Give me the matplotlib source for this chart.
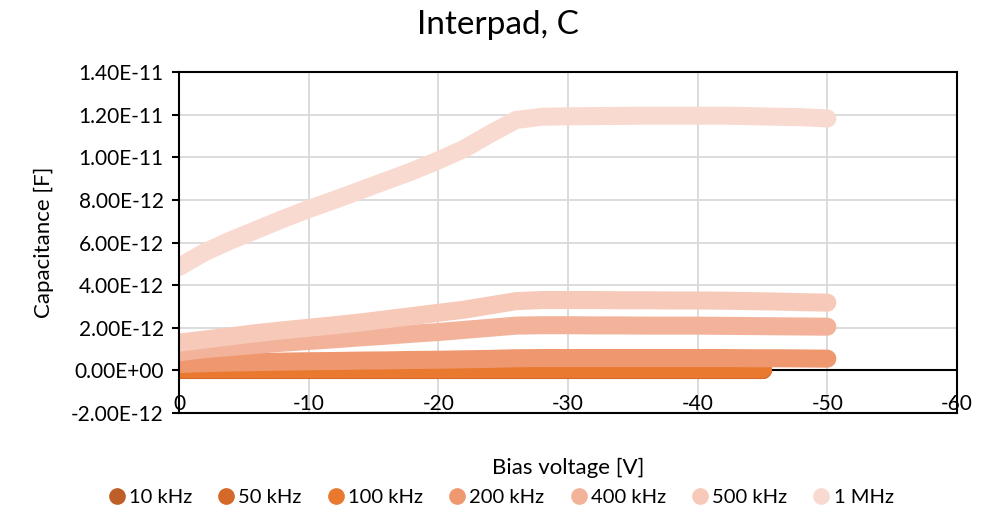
import matplotlib
matplotlib.use("Agg")
import matplotlib.pyplot as plt
from matplotlib.lines import Line2D
from matplotlib.ticker import FuncFormatter, MultipleLocator

plt.rcParams['font.family'] = ['Lato', 'DejaVu Sans']

# bias voltage [V], 2 V steps
bias = [0, -2, -4, -6, -8, -10, -12, -14, -16, -18, -20, -22, -24, -26,
        -28, -30, -32, -34, -36, -38, -40, -42, -44, -46, -48, -50]
bias_low = bias[:23] + [-45]

# capacitance in units of 1e-12 F
c_10k = [0.00] * 24
c_50k = [0.02] * 24
c_100k = [0.05] * 24
c_200k = [0.30, 0.34, 0.37, 0.39, 0.41, 0.43, 0.44, 0.46, 0.47, 0.49, 0.50, 0.52, 0.54, 0.57,
          0.58, 0.58, 0.58, 0.58, 0.58, 0.58, 0.58, 0.58, 0.57, 0.57, 0.56, 0.55]
c_400k = [0.85, 1.00, 1.10, 1.20, 1.30, 1.38, 1.46, 1.55, 1.63, 1.72, 1.80, 1.90, 2.00, 2.10,
          2.12, 2.12, 2.11, 2.11, 2.10, 2.10, 2.10, 2.09, 2.08, 2.07, 2.06, 2.05]
c_500k = [1.30, 1.45, 1.60, 1.75, 1.88, 2.00, 2.12, 2.25, 2.40, 2.55, 2.70, 2.85, 3.05, 3.25,
          3.30, 3.30, 3.30, 3.29, 3.29, 3.28, 3.28, 3.27, 3.25, 3.23, 3.20, 3.18]
c_1M = [4.85, 5.55, 6.10, 6.60, 7.10, 7.57, 8.00, 8.45, 8.90, 9.35, 9.85, 10.40, 11.10, 11.75,
        11.90, 11.92, 11.93, 11.94, 11.95, 11.95, 11.95, 11.95, 11.93, 11.90, 11.88, 11.82]

labels = ['10 kHz', '50 kHz', '100 kHz', '200 kHz', '400 kHz', '500 kHz', '1 MHz']
colors = ['#BE5F28', '#D4692A', '#E8792F', '#EF9870', '#F3B39A', '#F7C9B8', '#F9DAD0']
xs = [bias_low, bias_low, bias_low, bias, bias, bias, bias]
ys = [c_10k, c_50k, c_100k, c_200k, c_400k, c_500k, c_1M]

fig = plt.figure(figsize=(10, 5.19), dpi=100)
ax = fig.add_axes([0.179, 0.2042, 0.778, 0.6571])

for x, y, c in zip(xs, ys, colors):
    ax.plot(x, [v * 1e-12 for v in y], color=c, lw=13,
            solid_capstyle='round', solid_joinstyle='round')

ax.set_xlim(0, -60)
ax.set_ylim(-2e-12, 1.4e-11)
ax.xaxis.set_major_locator(MultipleLocator(10))
ax.yaxis.set_major_locator(MultipleLocator(2e-12))
ax.yaxis.set_major_formatter(FuncFormatter(lambda v, p: f"{v:.2E}"))
ax.xaxis.set_major_formatter(FuncFormatter(lambda v, p: f"{v:.0f}"))

ax.grid(True, color='#D9D9D9', lw=1.3)
ax.set_axisbelow(True)
ax.axhline(0, color='black', lw=1.5, zorder=1.5)
for s in ax.spines.values():
    s.set_color('black')
    s.set_linewidth(1.5)

ax.tick_params(axis='y', labelsize=15, length=5, width=1.5, direction='out', pad=6)
ax.tick_params(axis='x', labelsize=15, length=0, pad=-14)

fig.text(0.498, 0.952, 'Interpad, C', fontsize=24, ha='center', va='center')
ax.set_ylabel('Capacitance [F]', fontsize=16, labelpad=12)
ax.set_xlabel('Bias voltage [V]', fontsize=16, labelpad=32)

handles = [Line2D([], [], marker='o', linestyle='none', color=c, markersize=11) for c in colors]
fig.legend(handles, labels, loc='lower center', bbox_to_anchor=(0.5, -0.01), ncol=7,
           frameon=False, fontsize=14.5, handletextpad=0.1, columnspacing=1.2,
           handlelength=1.0)

fig.savefig('out.png', dpi=100)
